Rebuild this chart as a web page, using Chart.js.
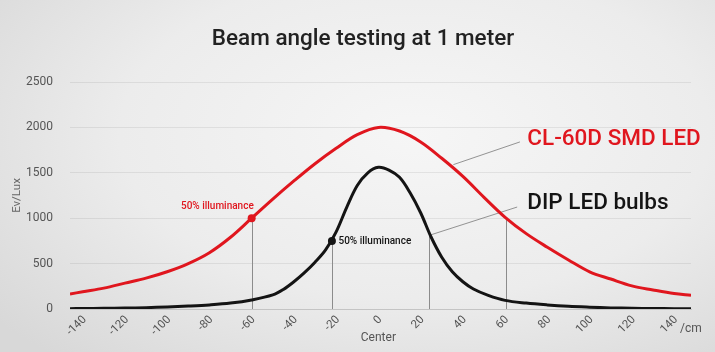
<!DOCTYPE html>
<html>
<head>
<meta charset="utf-8">
<script src="https://cdn.jsdelivr.net/npm/chart.js@4.4.1/dist/chart.umd.min.js"></script>
<style>
html, body { margin: 0; padding: 0; }
body {
  width: 715px; height: 352px; overflow: hidden;
  background: radial-gradient(ellipse 75% 85% at 58% 38%, #f6f6f6 0%, #ececec 55%, #d8d8d8 100%);
}
#wrap { position: relative; width: 715px; height: 352px; }
</style>
</head>
<body>
<div id="wrap"><canvas id="beam"></canvas></div>
<script>
// readings (cm from center -> lux)
const redX   = [-146,-140,-130,-120,-110,-100,-90,-80,-70,-60,-50,-40,-30,-20,-10,0,10,20,30,40,50,60,70,80,90,100,110,120,130,140,148];
const redLux = [165,190,230,285,340,410,500,620,790,1000,1210,1410,1600,1770,1920,2000,1960,1840,1660,1460,1230,1010,830,680,540,410,330,255,210,170,150];

const blackX   = [-146,-140,-130,-120,-110,-100,-90,-80,-70,-60,-50,-45,-40,-35,-30,-25,-20,-15,-10,-5,0,5,10,15,20,25,30,35,40,45,52,60,70,80,90,100,110,120,130,140,148];
const blackLux = [4,5,7,10,15,22,32,45,65,100,155,215,300,400,515,650,850,1120,1360,1500,1560,1530,1450,1280,1060,790,570,410,300,220,150,95,65,45,30,20,12,8,5,4,3];

const xTicks = [-140,-120,-100,-80,-60,-40,-20,0,20,40,60,80,100,120,140];
const yTicks = [0,500,1000,1500,2000,2500];

// 50% illuminance marks and the drop lines under them
const markX = [-60, -22];
const markLux = [1000, 750];
const dropX = [-60, -22, 24, 60.5];
const dropLux = [1000, 750, 840, 1000];

const RED = '#e0161e';
const BLK = '#141414';

const toXY = (xs, ys) => xs.map((v, i) => ({x: v, y: ys[i]}));

const extras = {
  id: 'extras',
  beforeDatasetsDraw(chart) {
    const {ctx, scales: {x, y}} = chart;
    ctx.save();
    ctx.strokeStyle = '#8c8c8c';
    ctx.lineWidth = 1;
    dropX.forEach((v, i) => {
      const px = Math.round(x.getPixelForValue(v)) + 0.5;
      ctx.beginPath();
      ctx.moveTo(px, y.getPixelForValue(dropLux[i]));
      ctx.lineTo(px, y.getPixelForValue(0));
      ctx.stroke();
    });
    // leader lines to the series names
    ctx.strokeStyle = '#7a7a7a';
    ctx.lineWidth = 0.8;
    [[67, 1840, 35.5, 1590], [65.7, 1123, 24.6, 815]].forEach(l => {
      ctx.beginPath();
      ctx.moveTo(x.getPixelForValue(l[0]), y.getPixelForValue(l[1]));
      ctx.lineTo(x.getPixelForValue(l[2]), y.getPixelForValue(l[3]));
      ctx.stroke();
    });
    ctx.restore();
  },
  afterDatasetsDraw(chart) {
    const {ctx, scales: {x, y}} = chart;
    ctx.save();
    ctx.textBaseline = 'middle';
    ctx.font = '500 22.5px Roboto';
    ctx.textAlign = 'left';
    ctx.fillStyle = RED;
    ctx.fillText('CL-60D SMD LED', x.getPixelForValue(70.5), y.getPixelForValue(1872));
    ctx.fillStyle = BLK;
    ctx.fillText('DIP LED bulbs', x.getPixelForValue(70.5), y.getPixelForValue(1167));

    ctx.font = '500 10px Roboto';
    ctx.fillStyle = RED;
    ctx.textAlign = 'right';
    ctx.fillText('50% illuminance', x.getPixelForValue(-59), y.getPixelForValue(1125));
    ctx.fillStyle = BLK;
    ctx.textAlign = 'left';
    ctx.fillText('50% illuminance', x.getPixelForValue(-18.9), y.getPixelForValue(740));

    // title and axis notes
    ctx.fillStyle = '#222';
    ctx.textAlign = 'center';
    ctx.font = '500 22.5px Roboto';
    ctx.fillText('Beam angle testing at 1 meter', 363, 39);
    ctx.font = '12px Roboto';
    ctx.fillStyle = '#555';
    ctx.fillText('Center', x.getPixelForValue(0), 338);
    ctx.textAlign = 'left';
    ctx.fillText('/cm', 680, 329);
    ctx.restore();
  }
};

new Chart(document.getElementById('beam'), {
  type: 'line',
  data: {
    datasets: [
      {
        label: '50% marks red',
        data: [{x: markX[0], y: markLux[0]}],
        showLine: false,
        pointRadius: 4,
        pointBackgroundColor: RED,
        pointBorderWidth: 0
      },
      {
        label: '50% marks black',
        data: [{x: markX[1], y: markLux[1]}],
        showLine: false,
        pointRadius: 4,
        pointBackgroundColor: BLK,
        pointBorderWidth: 0
      },
      {
        label: 'CL-60D SMD LED',
        data: toXY(redX, redLux),
        borderColor: RED,
        borderWidth: 3,
        pointRadius: 0,
        tension: 0.35
      },
      {
        label: 'DIP LED bulbs',
        data: toXY(blackX, blackLux),
        borderColor: BLK,
        borderWidth: 3,
        pointRadius: 0,
        tension: 0.35
      }
    ]
  },
  options: {
    responsive: true,
    maintainAspectRatio: false,
    devicePixelRatio: 1,
    animation: false,
    layout: { padding: { top: 82, right: 24, bottom: 0, left: 0 } },
    plugins: {
      legend: { display: false },
      tooltip: { enabled: false }
    },
    scales: {
      x: {
        type: 'linear',
        min: -146,
        max: 148,
        afterBuildTicks: s => { s.ticks = xTicks.map(v => ({value: v})); },
        afterFit: s => { s.height = 43; },
        grid: { display: false, drawTicks: false },
        border: { color: '#c4c4c4', width: 1 },
        ticks: {
          includeBounds: false,
          minRotation: 45,
          maxRotation: 45,
          padding: 4,
          labelOffset: 2,
          color: '#555',
          font: { family: 'Roboto', size: 11.5 },
          callback: v => String(v)
        }
      },
      y: {
        min: 0,
        max: 2500,
        afterBuildTicks: s => { s.ticks = yTicks.map(v => ({value: v})); },
        afterFit: s => { s.width = 70; },
        grid: { color: 'rgba(0,0,0,0.07)', drawTicks: false },
        border: { display: false },
        title: {
          display: true,
          text: 'Ev/Lux',
          color: '#666',
          font: { family: 'Roboto', size: 11.5 },
          padding: { top: 10, bottom: 0 }
        },
        ticks: {
          padding: 17,
          color: '#555',
          font: { family: 'Roboto', size: 12 },
          callback: v => String(v)
        }
      }
    }
  },
  plugins: [extras]
});
</script>
</body>
</html>
